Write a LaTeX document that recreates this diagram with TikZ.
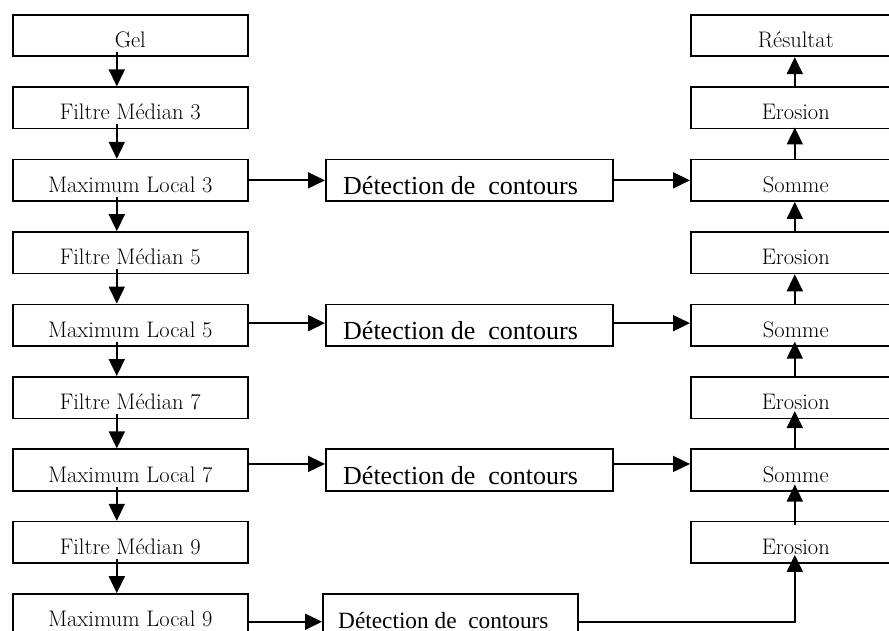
\documentclass[tikz,border=0pt]{standalone}
\usepackage{fontspec}
\newfontfamily\timesfont{Liberation Serif}
\usetikzlibrary{arrows.meta}
\begin{document}
\begin{tikzpicture}[x=1pt,y=-1pt,
  box/.style={draw,line width=1.6pt,minimum height=41.5pt,inner sep=0pt,anchor=north west},
  lbox/.style={box,minimum width=235pt},
  rbox/.style={box,minimum width=210pt},
  dbox/.style={box,minimum width=287pt},
  lbl/.style={inner sep=0pt,anchor=base,font=\fontsize{22.5}{26}\selectfont},
  dlbl/.style={inner sep=0pt,anchor=base west,font=\timesfont\fontsize{26}{30}\selectfont},
  arr/.style={line width=1.8pt,-{Triangle[length=17pt,width=16pt]}}]
\useasboundingbox (0,0) rectangle (889,631);
% left column
\node[lbox] (L0) at (12,14) {};
\node[lbox] (L1) at (12,86.4) {};
\node[lbox] (L2) at (12,158.8) {};
\node[lbox] (L3) at (12,231.2) {};
\node[lbox] (L4) at (12,303.6) {};
\node[lbox] (L5) at (12,376) {};
\node[lbox] (L6) at (12,448.4) {};
\node[lbox] (L7) at (12,520.8) {};
\node[lbox] (L8) at (12,593.2) {};
\node[lbl] (tL0) at ([yshift=9.5pt]L0.south) {Gel};
\node[lbl] (tL1) at ([yshift=9.5pt]L1.south) {Filtre Médian 3};
\node[lbl] (tL2) at ([yshift=9.5pt]L2.south) {Maximum Local 3};
\node[lbl] (tL3) at ([yshift=9.5pt]L3.south) {Filtre Médian 5};
\node[lbl] (tL4) at ([yshift=9.5pt]L4.south) {Maximum Local 5};
\node[lbl] (tL5) at ([yshift=9.5pt]L5.south) {Filtre Médian 7};
\node[lbl] (tL6) at ([yshift=9.5pt]L6.south) {Maximum Local 7};
\node[lbl] (tL7) at ([yshift=9.5pt]L7.south) {Filtre Médian 9};
\node[lbl] (tL8) at ([yshift=9.5pt]L8.south) {Maximum Local 9};
% right column
\node[rbox] (R0) at (690,14) {};
\node[rbox] (R1) at (690,86.4) {};
\node[rbox] (R2) at (690,158.8) {};
\node[rbox] (R3) at (690,231.2) {};
\node[rbox] (R4) at (690,303.6) {};
\node[rbox] (R5) at (690,376) {};
\node[rbox] (R6) at (690,448.4) {};
\node[rbox] (R7) at (690,520.8) {};
\node[lbl] (tR0) at ([yshift=9.5pt]R0.south) {Résultat};
\node[lbl] (tR1) at ([yshift=9.5pt]R1.south) {Erosion};
\node[lbl] (tR2) at ([yshift=9.5pt]R2.south) {Somme};
\node[lbl] (tR3) at ([yshift=9.5pt]R3.south) {Erosion};
\node[lbl] (tR4) at ([yshift=9.5pt]R4.south) {Somme};
\node[lbl] (tR5) at ([yshift=9.5pt]R5.south) {Erosion};
\node[lbl] (tR6) at ([yshift=9.5pt]R6.south) {Somme};
\node[lbl] (tR7) at ([yshift=9.5pt]R7.south) {Erosion};
% detection boxes
\node[dbox] (D2) at (325,158.8) {};
\node[dbox] (D4) at (325,303.6) {};
\node[dbox] (D6) at (325,448.4) {};
\node[box,minimum width=255pt] (D8) at (322,593.2) {};
\node[dlbl] (tD2) at ([xshift=18pt,yshift=7pt]D2.south west) {Détection de\ \ contours};
\node[dlbl] (tD4) at ([xshift=18pt,yshift=7pt]D4.south west) {Détection de\ \ contours};
\node[dlbl] (tD6) at ([xshift=18pt,yshift=7pt]D6.south west) {Détection de\ \ contours};
\node[dlbl,font=\timesfont\fontsize{23.3}{27}\selectfont] (tD8) at ([xshift=16pt,yshift=8pt]D8.south west) {Détection de\ \ contours};
% left vertical arrows
\foreach \a/\b in {L0/L1,L1/L2,L2/L3,L3/L4,L4/L5,L5/L6,L6/L7,L7/L8}
  \draw[arr] ([xshift=-13.5pt,yshift=5pt]\a.south) -- ([xshift=-13.5pt]\b.north);
% right vertical arrows
\draw[arr] ([xshift=-1pt]R1.north) -- ([xshift=-1pt]R0.south);
\draw[arr] ([xshift=-1pt]R2.north) -- ([xshift=-1pt,yshift=2pt]R1.south);
\draw[arr] ([xshift=-1pt]R3.north) -- ([xshift=-1pt]R2.south);
\draw[arr] ([xshift=-1pt]R4.north) -- ([xshift=-1pt]R3.south);
\draw[arr] ([xshift=-1pt]R5.north) -- ([xshift=-1pt,yshift=5pt]R4.south);
\draw[arr] ([xshift=-1pt]R6.north) -- ([xshift=-1pt,yshift=8pt]R5.south);
\draw[arr] ([xshift=-1pt,yshift=-4pt]R7.north) -- ([xshift=-1pt,yshift=7pt]R6.south);
% horizontal arrows
\draw[arr] (L2.east) -- (D2.west);
\draw[arr] (D2.east) -- (R2.west);
\draw[arr] ([yshift=2pt]L4.east) -- ([yshift=2pt]D4.west);
\draw[arr] ([yshift=2pt]D4.east) -- ([yshift=2pt]R4.west);
\draw[arr] ([yshift=6pt]L6.east) -- ([yshift=6pt]D6.west);
\draw[arr] ([yshift=6pt]D6.east) -- ([yshift=6pt]R6.west);
\draw[arr] ([yshift=-7pt]L8.east) -- ([yshift=-7pt]D8.west);
\draw[arr] ([yshift=-7pt]D8.east) -| ([xshift=-1pt,yshift=9pt]R7.south);
\end{tikzpicture}
\end{document}
